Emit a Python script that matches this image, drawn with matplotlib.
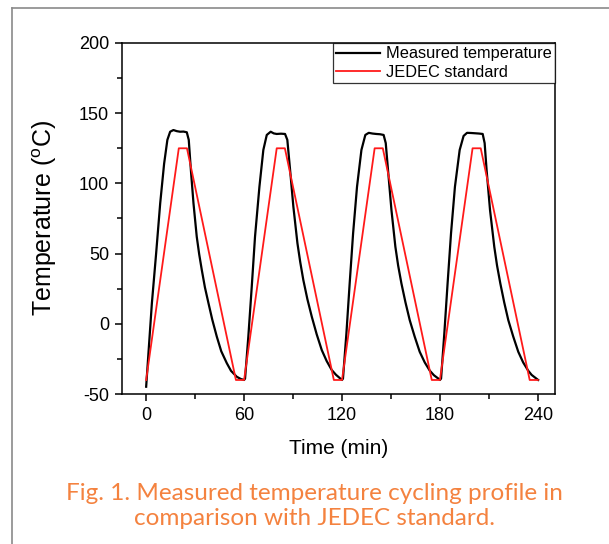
import matplotlib
matplotlib.use("Agg")
import matplotlib.pyplot as plt
from matplotlib.lines import Line2D
from matplotlib.ticker import MultipleLocator

plt.rcParams['font.family'] = ['Liberation Sans', 'DejaVu Sans']
plt.rcParams['mathtext.fontset'] = 'custom'
plt.rcParams['mathtext.rm'] = 'Liberation Sans'
plt.rcParams['axes.unicode_minus'] = False

# JEDEC temperature cycling profile (min, degC)
jedec_time = [0, 20, 25, 55, 60, 80, 85, 115, 120, 140, 145, 175, 180, 200, 205, 235, 240]
jedec_temp = [-40, 125, 125, -40, -40, 125, 125, -40, -40, 125, 125, -40, -40, 125, 125, -40, -40]

# Measured chamber temperature (min, degC)
measured_time = [
    0.0, 1.4, 3.5, 6.1, 8.6, 11.0, 13.0, 14.7, 16.7, 18.8, 20.8, 22.9, 24.9, 26.1, 27.4, 29.0,
    31.0, 32.5, 34.1, 36.0, 38.2, 40.5, 43.3, 46.0, 49.4, 52.0, 55.5, 58.0, 60.0,
    60.6, 62.6, 64.7, 66.7, 69.4, 71.8, 73.9, 76.3, 78.2, 80.0, 82.6, 85.1, 86.5, 88.2, 90.2,
    92.7, 94.4, 96.3, 98.8, 101.5, 104.5, 107.6, 110.6, 113.7, 116.3, 118.8, 120.0,
    120.6, 122.7, 124.7, 126.8, 129.2, 131.9, 134.3, 136.4, 138.7, 141.0, 143.3, 145.5, 146.8,
    148.2, 150.3, 152.7, 154.4, 156.4, 158.9, 161.5, 164.5, 167.6, 170.7, 173.8, 176.3, 178.8, 180.0,
    180.7, 182.7, 184.7, 186.8, 189.2, 192.1, 194.5, 196.6, 199.0, 201.5, 203.9, 206.2, 207.4,
    208.6, 210.7, 213.3, 215.0, 217.0, 219.4, 221.9, 224.9, 228.0, 231.0, 234.1, 236.2, 238.2, 240.2,
]
measured_temp = [
    -44.8, -21.0, 14.6, 50.0, 85.8, 114.0, 131.0, 136.8, 138.0, 137.2, 136.8, 136.9, 136.4, 131.0, 109.5, 85.8,
    62.0, 49.5, 38.3, 26.0, 14.6, 3.0, -9.2, -19.5, -28.0, -33.5, -37.7, -39.3, -40.0,
    -39.0, -9.2, 26.4, 62.0, 97.6, 123.8, 134.5, 136.8, 135.6, 135.2, 135.4, 135.2, 131.0, 109.5, 83.4,
    57.3, 44.0, 31.2, 17.5, 5.0, -7.5, -18.7, -26.5, -32.9, -36.3, -38.8, -40.0,
    -39.0, -6.8, 28.8, 64.4, 97.6, 123.8, 134.5, 136.0, 135.5, 135.2, 135.0, 134.5, 128.7,
    109.5, 81.0, 54.9, 41.5, 28.8, 15.2, 2.6, -9.0, -19.9, -27.5, -33.4, -36.6, -38.8, -40.0,
    -39.0, -6.8, 28.8, 64.4, 97.6, 123.8, 133.8, 136.0, 135.9, 135.7, 135.5, 135.2, 128.7,
    109.5, 81.0, 54.9, 41.5, 28.8, 15.2, 2.6, -9.0, -19.9, -27.5, -33.4, -36.4, -38.2, -40.0,
]

x_ticks = [0, 60, 120, 180, 240]
y_ticks = [-50, 0, 50, 100, 150, 200]

fig = plt.figure(figsize=(6.09, 5.44), dpi=100)
ax = fig.add_axes([0.1998, 0.2757, 0.7115, 0.6453])

ax.plot(measured_time, measured_temp, color='black', lw=1.6, label='Measured temperature',
        solid_joinstyle='round')
ax.plot(jedec_time, jedec_temp, color='#ff1a1a', lw=1.3, label='JEDEC standard')

ax.set_xlim(-15, 250.5)
ax.set_ylim(-50, 200)
ax.set_xticks(x_ticks)
ax.set_yticks(y_ticks)
ax.xaxis.set_minor_locator(MultipleLocator(30))
ax.yaxis.set_minor_locator(MultipleLocator(25))
ax.tick_params(which='both', direction='out', top=False, right=False,
               width=1.1, labelsize=13, pad=4)
ax.tick_params(which='major', length=5)
ax.tick_params(which='minor', length=3.5)
for s in ax.spines.values():
    s.set_linewidth(1.1)

ax.set_xlabel('Time (min)', fontsize=15, labelpad=11)
ax.set_ylabel(r'Temperature ($^\mathregular{o}$C)', fontsize=18, labelpad=14)

leg = ax.legend(loc='upper right', fontsize=11.8, frameon=True, fancybox=False,
                borderaxespad=0, handlelength=2.7, handletextpad=0.35,
                borderpad=0.2, labelspacing=0.2)
leg.get_frame().set_edgecolor('black')
leg.get_frame().set_linewidth(0.9)

# caption and page border
fig.text(0.517, 0.07, 'Fig. 1. Measured temperature cycling profile in\ncomparison with JEDEC standard.',
         ha='center', va='center', color='#f4823f', fontsize=17.5,
         family=['Lato', 'DejaVu Sans'], linespacing=1.2)
fig.add_artist(Line2D([12 / 609, 12 / 609], [0, 1 - 8 / 544], transform=fig.transFigure,
                      color='#8a8a8a', lw=1.2))
fig.add_artist(Line2D([12 / 609, 1], [1 - 8 / 544, 1 - 8 / 544], transform=fig.transFigure,
                      color='#8a8a8a', lw=1.2))

fig.savefig('out.png', dpi=100)
